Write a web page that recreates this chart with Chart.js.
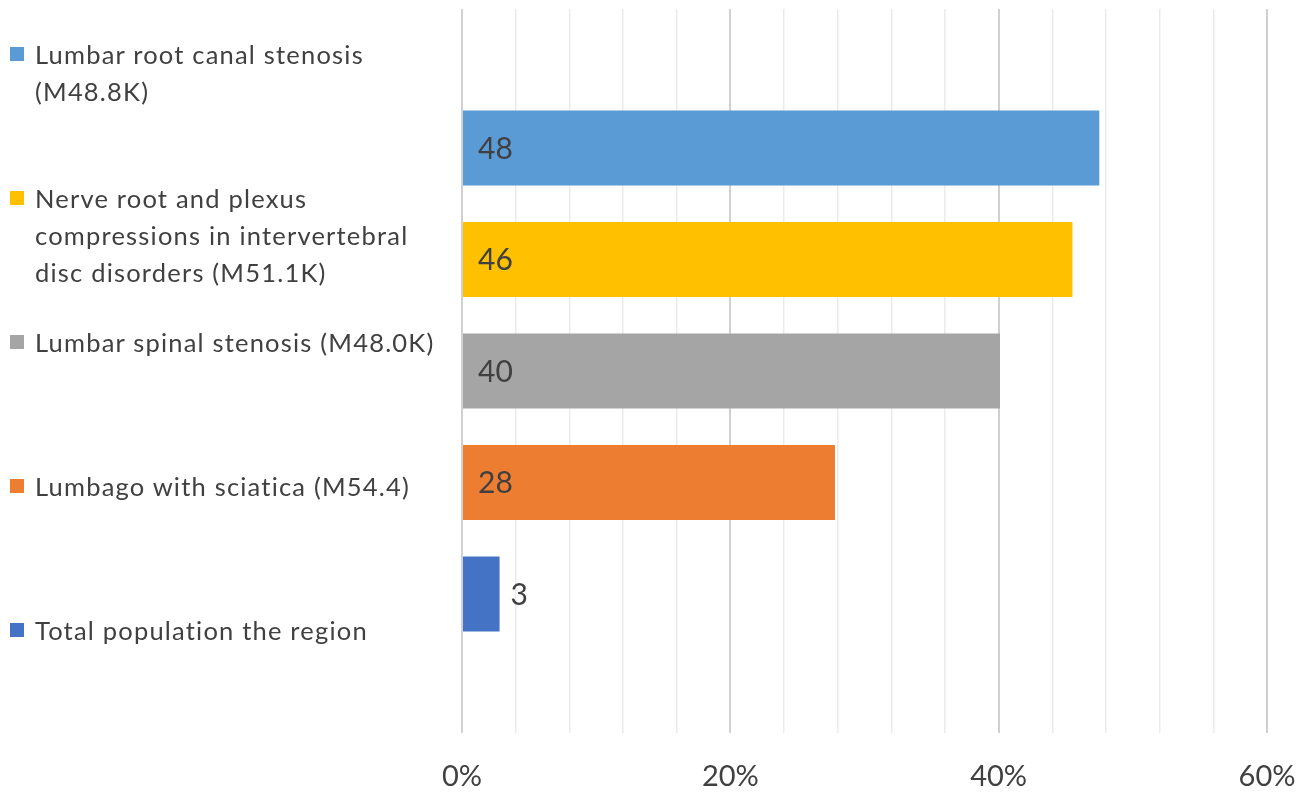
<!DOCTYPE html>
<html>
<head>
<meta charset="utf-8">
<script src="https://cdn.jsdelivr.net/npm/chart.js@4"></script>
<style>
    html, body { margin: 0; padding: 0; background: #fff; }
    #wrap { position: relative; width: 1309px; height: 795px; }
    #chart { position: absolute; left: 0; top: 0; }
    .leg {
        position: absolute; left: 10px; padding-left: 25px;
        font-family: Lato, sans-serif; font-size: 25.5px; line-height: 37px;
        letter-spacing: 1.2px; color: #404040; white-space: pre-line;
    }
    .leg i { position: absolute; left: 0; top: 11px; width: 14px; height: 14px; }
</style>
</head>
<body>
<div id="wrap">
    <canvas id="chart" width="1309" height="795"></canvas>
</div>
<script>
/* ---- datos ---- */
const CATEGORIAS = [""];
const SERIES_NOMBRES = [
    "Lumbar root canal stenosis\n(M48.8K)",
    "Nerve root and plexus\ncompressions in intervertebral\ndisc disorders (M51.1K)",
    "Lumbar spinal stenosis (M48.0K)",
    "Lumbago with sciatica (M54.4)",
    "Total population the region"
];
const SERIES_VALORES = [47.5, 45.5, 40.1, 27.8, 2.8];
const SERIES_ETIQUETAS = ["48", "46", "40", "28", "3"];
const SERIES_COLORES = ["#5B9BD5", "#FFC000", "#A5A5A5", "#ED7D31", "#4472C4"];
const X_TICKS_MAYORES = [0, 20, 40, 60];

const TEXTO = "#404040";

/* Leyenda a la izquierda (HTML) */
function renderLeyenda() {
    const wrap = document.getElementById("wrap");
    SERIES_NOMBRES.forEach((nombre, i) => {
        const div = document.createElement("div");
        div.className = "leg";
        div.style.top = (36 + i * 144) + "px";
        const sq = document.createElement("i");
        sq.style.background = SERIES_COLORES[i];
        div.appendChild(sq);
        div.appendChild(document.createTextNode(nombre));
        wrap.appendChild(div);
    });
}

/* Etiquetas de valor sobre las barras */
const etiquetasPlugin = {
    id: "etiquetas",
    afterDatasetsDraw(chart) {
        const ctx = chart.ctx;
        ctx.save();
        ctx.font = "30px Lato";
        ctx.fillStyle = TEXTO;
        ctx.textBaseline = "middle";
        ctx.textAlign = "left";
        chart.data.datasets.forEach((ds, i) => {
            const meta = chart.getDatasetMeta(i);
            meta.data.forEach(bar => {
                const txt = SERIES_ETIQUETAS[i];
                const w = ctx.measureText(txt).width;
                const largo = bar.x - bar.base;
                if (w + 30 < largo) {
                    ctx.fillText(txt, bar.base + 15, bar.y + 1);
                } else {
                    ctx.fillText(txt, bar.x + 11, bar.y + 1);
                }
            });
        });
        ctx.restore();
    }
};

renderLeyenda();

new Chart(document.getElementById("chart"), {
    type: "bar",
    data: {
        labels: CATEGORIAS,
        datasets: SERIES_NOMBRES.map((nombre, i) => ({
            label: nombre,
            data: [SERIES_VALORES[i]],
            backgroundColor: SERIES_COLORES[i],
            borderWidth: 0,
            categoryPercentage: 0.77,
            barPercentage: 0.673
        }))
    },
    options: {
        indexAxis: "y",
        responsive: false,
        animation: false,
        layout: { padding: { left: 462, right: 42, top: 9, bottom: 0 } },
        plugins: { legend: { display: false }, tooltip: { enabled: false } },
        scales: {
            x: {
                min: 0,
                max: 60,
                border: { display: false },
                afterFit: s => { s.height = 62; s.paddingRight = 0; s.paddingLeft = 0; },
                grid: {
                    drawTicks: false,
                    color: c => X_TICKS_MAYORES.includes(c.tick.value) ? "#d0d0d0" : "#ebebeb",
                    lineWidth: c => X_TICKS_MAYORES.includes(c.tick.value) ? 2 : 1.5
                },
                ticks: {
                    stepSize: 4,
                    autoSkip: false,
                    maxRotation: 0,
                    padding: 26,
                    color: TEXTO,
                    font: { family: "Lato", size: 29 },
                    callback: v => X_TICKS_MAYORES.includes(v) ? v + "%" : ""
                }
            },
            y: { display: false }
        }
    },
    plugins: [etiquetasPlugin]
});
</script>
</body>
</html>
